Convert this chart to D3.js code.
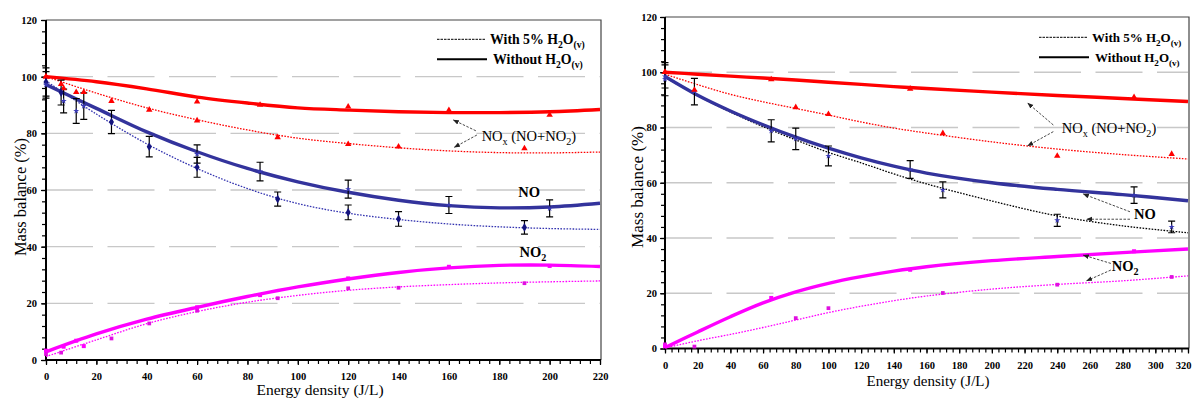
<!DOCTYPE html>
<html><head><meta charset="utf-8">
<script src="https://cdn.jsdelivr.net/npm/d3@7"></script>
<style>
body{margin:0;background:#fff}
svg{display:block}
text{font-family:"Liberation Serif","Times New Roman","DejaVu Serif",serif}
</style>
</head><body>
<svg id="c" width="1192" height="399" font-family="Liberation Serif, Times New Roman, serif"></svg>
<script>
// ---------------- DATA ----------------
const yTicks = [0, 20, 40, 60, 80, 100, 120];
const gridVals = [20, 40, 60, 80, 100];
const leftXTicks = [0, 20, 40, 60, 80, 100, 120, 140, 160, 180, 200, 220];
const rightXTicks = [0, 20, 40, 60, 80, 100, 120, 140, 160, 180, 200, 220, 240, 260, 280, 300, 320];

// Left panel - measurements with 5% H2O(v)
const leftWetX = [0, 6, 26, 41, 60, 92, 120, 140, 190];
const leftWetNOx = [100, 97.4, 91.4, 88.3, 84.5, 78.6, 76.2, 75.3, 74.7];
const leftWetNO = [98.1, 94.4, 84, 75.3, 68, 56.8, 52.1, 49.8, 46.8];
const leftWetNOErr = [5, 4.4, 4.1, 3.6, 3.5, 2.5, 2.6, 2.6, 2.4];
const leftWetNO2 = [2.1, 2.6, 7.6, 12.9, 17.4, 21.8, 25.3, 25.5, 27.1];
// Left panel - measurements without H2O(v)
const leftDryX = [0, 7, 12, 15, 60, 85, 120, 160, 200];
const leftDryNOx = [100, 95.9, 94.5, 94.5, 91.2, 90, 89.4, 88.2, 86.5];
const leftDryNO = [97.1, 91.4, 87.9, 89.6, 72.7, 66.5, 60.3, 54.7, 53.5];
const leftDryNOErr = [4.7, 4.2, 4.4, 4.7, 3.2, 3.3, 3.2, 3, 3];
const leftDryNO2 = [3.3, 4.7, 6.8, 4.9, 18.6, 22.9, 28.8, 32.9, 33.2];
// Left panel - fitted curves
const leftFitX = [0, 20, 40, 60, 80, 100, 120, 140, 160, 180, 200, 220];
const leftFitDryNOx = [100, 98.2, 95.7, 92.8, 90.7, 89.0, 88.2, 87.6, 87.3, 87.3, 87.6, 88.4];
const leftFitWetNOx = [100, 94.2, 89, 84.8, 81.2, 78.3, 76.4, 74.9, 73.8, 73.2, 73.1, 73.4];
const leftFitDryNO = [97.2, 88.8, 80.5, 73.5, 67.6, 62.9, 59.2, 56.4, 54.5, 53.7, 54, 55.3];
const leftFitWetNO = [98.5, 86.8, 76.3, 67.6, 60.5, 55.2, 51.8, 49.6, 48, 47, 46.4, 46.1];
const leftFitDryNO2 = [2.9, 9.2, 14.4, 18.6, 22.4, 25.8, 28.6, 30.9, 32.5, 33.4, 33.5, 33];
const leftFitWetNO2 = [1.2, 7.1, 12.8, 17.1, 20.4, 22.8, 24.6, 25.8, 26.6, 27.2, 27.6, 27.9];

// Right panel - measurements with 5% H2O(v)
const rightWetX = [0, 18, 80, 100, 170, 240, 310];
const rightWetNOx = [100, 93.6, 87.3, 84.8, 77.9, 69.7, 70.4];
const rightWetNO = [97.5, 93, 75.9, 69.7, 57.4, 46.4, 44];
const rightWetNOErr = [6, 4.8, 3.9, 3.6, 2.9, 2.2, 2.1];
const rightWetNO2 = [1.5, 0.7, 11, 14.6, 20.1, 23.1, 25.9];
// Right panel - measurements without H2O(v)
const rightDryX = [0, 65, 150, 287];
const rightDryNOx = [100, 97.4, 94, 91];
const rightDryNO = [98.5, 78.8, 64.8, 55.5];
const rightDryNOErr = [4.2, 4, 3.2, 3];
const rightDryNO2 = [0.8, 18.3, 28.5, 35.2];
// Right panel - fitted curves
const rightFitX = [0, 20, 40, 60, 80, 100, 120, 140, 160, 200, 240, 280, 320];
const rightFitDryNOx = [100, 99.3, 98.6, 97.9, 97.2, 96.4, 95.6, 94.8, 94.1, 92.8, 91.6, 90.5, 89.4];
const rightFitWetNOx = [99.3, 95.5, 92, 89.3, 86.9, 84.5, 82, 79.8, 78, 74.8, 72.2, 70.2, 68.6];
const rightFitDryNO = [98.5, 91.7, 86, 81, 76.5, 72.5, 69, 66, 63.5, 60, 57.6, 55.7, 53.5];
const rightFitWetNO = [98.2, 91.5, 85.6, 80.3, 75.5, 71, 67.2, 63.2, 59.6, 53.4, 48, 44.4, 41.9];
const rightFitDryNO2 = [0.3, 6, 11.5, 16.5, 20.5, 23.6, 26, 28, 29.6, 31.8, 33.3, 34.7, 36];
const rightFitWetNO2 = [0.2, 2.8, 5.1, 7.6, 10.3, 13, 15.3, 17.3, 19, 21.5, 23.2, 24.5, 26.3];

// ---------------- DRAWING ----------------
const SERIF = "Liberation Serif, Times New Roman, DejaVu Serif, serif";
const svg = d3.select("#c");
svg.append("rect").attr("width", 1192).attr("height", 399).attr("fill", "#fff");
const defs = svg.append("defs");
defs.append("marker").attr("id", "arr").attr("viewBox", "0 0 10 10")
  .attr("refX", 9).attr("refY", 5).attr("markerWidth", 6).attr("markerHeight", 6)
  .attr("orient", "auto").attr("markerUnits", "userSpaceOnUse")
  .append("path").attr("d", "M0,1 L10,5 L0,9 Z").attr("fill", "#222");

const RED = "#ff0000", BLUE = "#33339c", NAVY = "#14147e", STAR = "#3838b4", PINK = "#ff00ff";

function richText(g, x, y, segs, size, weight, anchor) {
  const t = g.append("text").attr("x", x).attr("y", y).attr("font-size", size)
    .attr("font-family", SERIF)
    .attr("font-weight", weight || "normal").attr("text-anchor", anchor || "start").attr("fill", "#000");
  let shifted = 0;
  segs.forEach(s => {
    const sp = t.append("tspan").text(s[0]);
    const want = s[1] ? size * 0.3 : 0;
    const dy = want - shifted;
    if (dy) sp.attr("dy", dy);
    if (s[1]) sp.attr("font-size", size * 0.7);
    shifted = want;
  });
  return t;
}

function panel(cfg) {
  const x = d3.scaleLinear().domain([0, cfg.xMax]).range([cfg.left, cfg.right]);
  const y = d3.scaleLinear().domain([0, 120]).range([cfg.bottom, cfg.top]);
  const g = svg.append("g");
  const clipId = "clip" + cfg.id;
  defs.append("clipPath").attr("id", clipId).append("rect")
    .attr("x", cfg.left).attr("y", cfg.top).attr("width", cfg.right - cfg.left + 2).attr("height", cfg.bottom - cfg.top);

  // gridlines
  g.selectAll(".grid").data(gridVals).join("line")
    .attr("x1", cfg.left).attr("x2", cfg.right)
    .attr("y1", d => y(d)).attr("y2", d => y(d))
    .attr("stroke", "#c8c8c8").attr("stroke-width", 1.4).attr("stroke-dasharray", "47,14.5");

  // frame top / right
  g.append("path").attr("d", `M${cfg.left},${cfg.top}H${cfg.right + 1}V${cfg.bottom}`)
    .attr("fill", "none").attr("stroke", "#444").attr("stroke-width", 1.2);

  // axes
  const yAxisMinor = d3.axisLeft(y).tickValues(d3.range(0, 121, 4)).tickSize(4).tickFormat("");
  const yAxis = d3.axisLeft(y).tickValues(yTicks).tickSize(5).tickPadding(cfg.yPad).tickFormat(d3.format("d"));
  const xAxisMinor = d3.axisBottom(x).tickValues(d3.range(0, cfg.xMax + 1, 4)).tickSize(4).tickFormat("");
  const xAxis = d3.axisBottom(x).tickValues(cfg.xTicks).tickSize(5).tickPadding(8).tickFormat(d3.format("d"));
  [yAxisMinor, yAxis].forEach(a => {
    const ag = g.append("g").attr("transform", `translate(${cfg.left},0)`).call(a).attr("font-family", SERIF);
    ag.select(".domain").remove();
    ag.selectAll("line").attr("stroke", "#000").attr("stroke-width", 1.2);
    ag.selectAll("text").attr("font-family", SERIF).attr("font-size", 10.5).attr("font-weight", "bold").attr("fill", "#000");
  });
  [xAxisMinor, xAxis].forEach(a => {
    const ag = g.append("g").attr("transform", `translate(0,${cfg.bottom})`).call(a).attr("font-family", SERIF);
    ag.select(".domain").remove();
    ag.selectAll("line").attr("stroke", "#000").attr("stroke-width", 1.2);
    ag.selectAll("text").attr("font-family", SERIF).attr("font-size", 10.5).attr("font-weight", "bold").attr("fill", "#000");
    // keep the last label inside the picture
    ag.selectAll("text").filter(d => x(d) + 9 > 1192).attr("text-anchor", "end").attr("dx", 1192 - x(cfg.xMax) - 1);
  });
  g.append("path").attr("d", `M${cfg.left},${cfg.top}V${cfg.bottom}H${cfg.right + 1}`)
    .attr("fill", "none").attr("stroke", "#000").attr("stroke-width", 2);

  // axis titles
  g.append("text").attr("transform", `translate(${cfg.yTitleX},${cfg.yTitleY}) rotate(-90)`)
    .attr("font-family", SERIF)
    .attr("text-anchor", "middle").attr("font-size", cfg.yTitleSize).text("Mass balance (%)");
  g.append("text").attr("x", cfg.xTitleX).attr("y", cfg.xTitleY).attr("font-family", SERIF)
    .attr("text-anchor", "middle").attr("font-size", cfg.xTitleSize).text("Energy density (J/L)");

  // curves
  const cg = g.append("g").attr("clip-path", `url(#${clipId})`);
  const line = d3.line().x(d => x(d[0])).y(d => y(d[1])).curve(d3.curveCatmullRom.alpha(0.5));
  cfg.curves.forEach(c => {
    cg.append("path").datum(cfg.fitX.map((v, i) => [v, c.vals[i]]))
      .attr("d", line).attr("fill", "none").attr("stroke", c.color)
      .attr("stroke-width", c.dry ? 3.4 : 1.3)
      .attr("stroke-dasharray", c.dry ? null : "1.6,1.4");
  });

  // error bars
  cfg.errs.forEach(e => {
    e.xs.forEach((xv, i) => {
      const cx = x(xv), y1 = y(e.ys[i] - e.err[i]), y2 = y(e.ys[i] + e.err[i]);
      g.append("path").attr("d", `M${cx},${y1}V${y2}M${cx - 3.5},${y1}H${cx + 3.5}M${cx - 3.5},${y2}H${cx + 3.5}`)
        .attr("stroke", "#000").attr("stroke-width", 1.2).attr("fill", "none");
    });
  });

  // markers
  cfg.marks.forEach(m => {
    const sym = d3.symbol().type(m.type).size(m.size);
    g.append("g").selectAll("path").data(m.xs.map((v, i) => [v, m.ys[i]])).join("path")
      .attr("transform", d => `translate(${x(d[0])},${y(d[1])})`)
      .attr("d", sym).attr("fill", m.color);
  });

  // legend
  const L = cfg.legend;
  g.append("line").attr("x1", L.x).attr("x2", L.x + 49).attr("y1", L.y).attr("y2", L.y)
    .attr("stroke", "#000").attr("stroke-width", 1).attr("stroke-dasharray", "2.5,1");
  richText(g, L.x + 53, L.y + 4.5, [["With 5% H"], ["2", 1], ["O"], ["(v)", 1]], L.size, "bold");
  g.append("line").attr("x1", L.x).attr("x2", L.x + 50).attr("y1", L.y + 20).attr("y2", L.y + 20)
    .attr("stroke", "#000").attr("stroke-width", 2);
  richText(g, L.x + 56, L.y + 24.5, [["Without H"], ["2", 1], ["O"], ["(v)", 1]], L.size, "bold");

  // annotations
  cfg.labels.forEach(l => {
    richText(g, x(l.x), y(l.y), l.segs, 14.5, l.bold ? "bold" : "normal");
  });
  cfg.arrows.forEach(a => {
    g.append("line").attr("x1", x(a[0])).attr("y1", y(a[1])).attr("x2", x(a[2])).attr("y2", y(a[3]))
      .attr("stroke", "#333").attr("stroke-width", 0.9).attr("stroke-dasharray", "2.5,1.5")
      .attr("marker-end", "url(#arr)");
  });
}

const NOxSegs = [["NO"], ["x", 1], [" (NO+NO"], ["2", 1], [")"]];

panel({
  id: "L", xMax: 220, left: 46, right: 600, top: 20, bottom: 360, xTicks: leftXTicks, yPad: 4,
  yTitleX: 26, yTitleY: 197, yTitleSize: 16.5, xTitleX: 320, xTitleY: 395, xTitleSize: 15.5,
  fitX: leftFitX,
  curves: [
    { vals: leftFitWetNOx, color: RED }, { vals: leftFitWetNO, color: "#3434b0" }, { vals: leftFitWetNO2, color: PINK },
    { vals: leftFitDryNOx, color: RED, dry: 1 }, { vals: leftFitDryNO, color: BLUE, dry: 1 }, { vals: leftFitDryNO2, color: PINK, dry: 1 }
  ],
  errs: [
    { xs: leftWetX, ys: leftWetNO, err: leftWetNOErr },
    { xs: leftDryX, ys: leftDryNO, err: leftDryNOErr }
  ],
  marks: [
    { xs: leftWetX, ys: leftWetNOx, type: d3.symbolTriangle, size: 18, color: RED },
    { xs: leftDryX, ys: leftDryNOx, type: d3.symbolTriangle, size: 18, color: RED },
    { xs: leftWetX, ys: leftWetNO, type: d3.symbolDiamond, size: 22, color: NAVY },
    { xs: leftDryX, ys: leftDryNO, type: d3.symbolStar, size: 12, color: STAR },
    { xs: leftWetX, ys: leftWetNO2, type: d3.symbolSquare, size: 14, color: "#e010e0" },
    { xs: leftDryX, ys: leftDryNO2, type: d3.symbolSquare, size: 16, color: PINK }
  ],
  legend: { x: 437, y: 39.3, size: 13.8 },
  labels: [
    { x: 173, y: 77.4, segs: NOxSegs },
    { x: 187.5, y: 57.5, segs: [["NO"]], bold: 1 },
    { x: 188, y: 36.4, segs: [["NO"], ["2", 1]], bold: 1 }
  ],
  arrows: [
    [170.7, 80.9, 161.8, 84.7],
    [171.1, 79.4, 162.2, 75.1]
  ]
});

panel({
  id: "R", xMax: 320, left: 665, right: 1188, top: 17, bottom: 348.5, xTicks: rightXTicks, yPad: 3,
  yTitleX: 643, yTitleY: 187, yTitleSize: 17, xTitleX: 928, xTitleY: 386, xTitleSize: 15,
  fitX: rightFitX,
  curves: [
    { vals: rightFitWetNOx, color: RED }, { vals: rightFitWetNO, color: "#000" }, { vals: rightFitWetNO2, color: PINK },
    { vals: rightFitDryNOx, color: RED, dry: 1 }, { vals: rightFitDryNO, color: BLUE, dry: 1 }, { vals: rightFitDryNO2, color: PINK, dry: 1 }
  ],
  errs: [
    { xs: rightWetX, ys: rightWetNO, err: rightWetNOErr },
    { xs: rightDryX, ys: rightDryNO, err: rightDryNOErr }
  ],
  marks: [
    { xs: rightWetX, ys: rightWetNO, type: d3.symbolStar, size: 12, color: STAR },
    { xs: rightDryX, ys: rightDryNO, type: d3.symbolStar, size: 12, color: STAR },
    { xs: rightWetX, ys: rightWetNOx, type: d3.symbolTriangle, size: 18, color: RED },
    { xs: rightDryX, ys: rightDryNOx, type: d3.symbolTriangle, size: 18, color: RED },
    { xs: rightWetX, ys: rightWetNO2, type: d3.symbolSquare, size: 14, color: "#e010e0" },
    { xs: rightDryX, ys: rightDryNO2, type: d3.symbolSquare, size: 16, color: PINK }
  ],
  legend: { x: 1039, y: 37.3, size: 13 },
  labels: [
    { x: 242.8, y: 78.0, segs: NOxSegs },
    { x: 287, y: 46.9, segs: [["NO"]], bold: 1 },
    { x: 273.4, y: 28.1, segs: [["NO"], ["2", 1]], bold: 1 }
  ],
  arrows: [
    [237.6, 80.9, 222, 88.8],
    [237.6, 78.5, 222, 73.4],
    [284.5, 49.5, 256, 55.9],
    [284.5, 46.8, 258, 46.8],
    [272.8, 30.8, 256, 33.8],
    [272.8, 28.4, 258, 24.5]
  ]
});
</script>
</body></html>
